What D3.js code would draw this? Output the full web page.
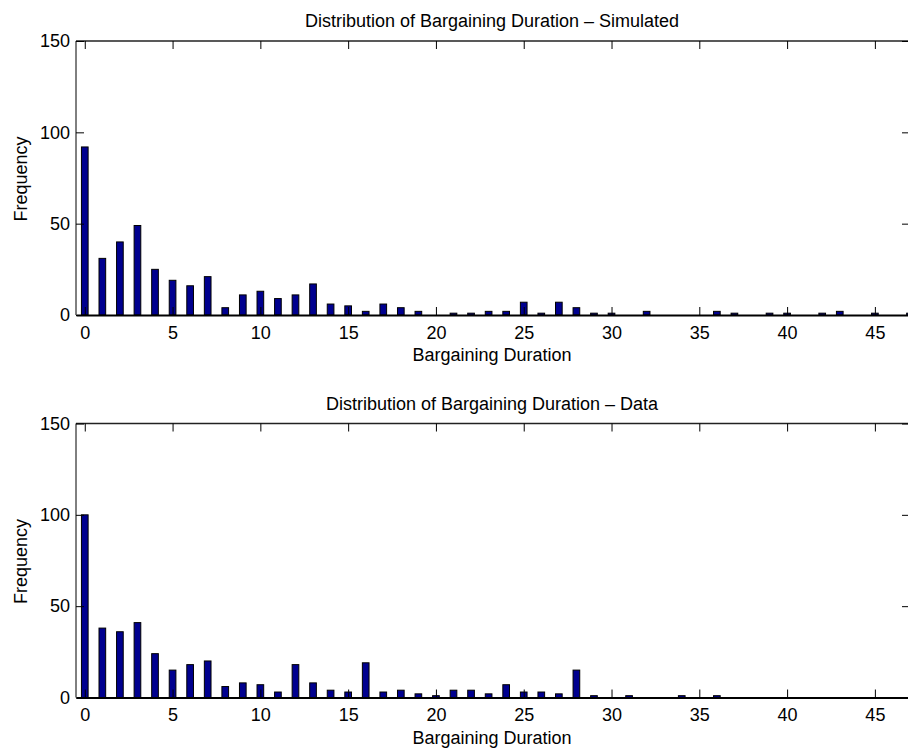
<!DOCTYPE html>
<html>
<head>
<meta charset="utf-8">
<script src="https://cdn.jsdelivr.net/npm/d3@7"></script>
<style>
  body { margin: 0; background: #fff; }
  svg { display: block; font-family: "Liberation Sans", Arial, Helvetica, sans-serif; }
</style>
</head>
<body>
<svg id="chart" width="908" height="756"></svg>
<script>
// ---- data ----
const durations = d3.range(0, 48);
const simulated = [92,31,40,49,25,19,16,21,4,11,13,9,11,17,6,5,2,6,4,2,0,1,1,2,2,7,1,7,4,1,1,0,2,0,0,0,2,1,0,1,1,0,1,2,0,1,0,1];
const observed  = [100,38,36,41,24,15,18,20,6,8,7,3,18,8,4,3,19,3,4,2,1,4,4,2,7,3,3,2,15,1,0,1,0,0,1,0,1,0,0,0,0,0,0,0,0,0,0,0];
const xTicks = [0,5,10,15,20,25,30,35,40,45];
const yTicks = [0,50,100,150];
const titles = ["Distribution of Bargaining Duration \u2013 Simulated", "Distribution of Bargaining Duration \u2013 Data"];
const xLabel = "Bargaining Duration";
const yLabel = "Frequency";

const svg = d3.select("#chart");
const left = 76, right = 910;
const fs = 18;
const panels = [
  { top: 41, bottom: 315, values: simulated, title: titles[0] },
  { top: 423.5, bottom: 697.5, values: observed, title: titles[1] }
];

const x = d3.scaleLinear().domain([-0.5, 47]).range([left, right]);
const halfW = 0.19;

panels.forEach(p => {
  const y = d3.scaleLinear().domain([0, 150]).range([p.bottom, p.top]);
  const g = svg.append("g");

  // bars
  g.selectAll("rect.bar").data(durations.map((d, i) => ({ d, v: p.values[i] })))
    .enter().append("rect").attr("class", "bar")
    .attr("x", d => x(d.d - halfW))
    .attr("width", d => x(d.d + halfW) - x(d.d - halfW))
    .attr("y", d => y(d.v))
    .attr("height", d => y(0) - y(d.v))
    .attr("fill", "#00008f")
    .attr("stroke", "#000")
    .attr("stroke-width", 1);

  // box
  const tickLen = 8;
  g.append("line").attr("x1", left).attr("x2", right).attr("y1", p.top).attr("y2", p.top)
    .attr("stroke", "#222").attr("stroke-width", 1.3);
  g.append("line").attr("x1", left).attr("x2", left).attr("y1", p.top).attr("y2", p.bottom)
    .attr("stroke", "#000").attr("stroke-width", 1);
  g.append("line").attr("x1", right).attr("x2", right).attr("y1", p.top).attr("y2", p.bottom)
    .attr("stroke", "#000").attr("stroke-width", 1);

  // x axis (bottom), ticks pointing inward
  const xAxis = d3.axisBottom(x).tickValues(xTicks).tickSizeInner(-tickLen).tickSizeOuter(0).tickPadding(11);
  const gx = g.append("g").attr("transform", `translate(0,${p.bottom})`).call(xAxis);
  gx.select(".domain").attr("stroke-width", 2);
  gx.selectAll("text").attr("font-size", fs).attr("fill", "#000").attr("font-family", "Liberation Sans, Arial, sans-serif");
  // top ticks
  const xTop = d3.axisTop(x).tickValues(xTicks).tickSizeInner(-tickLen).tickSizeOuter(0).tickFormat("");
  const gxt = g.append("g").attr("transform", `translate(0,${p.top})`).call(xTop);
  gxt.select(".domain").remove();

  // y axis left
  const yAxis = d3.axisLeft(y).tickValues(yTicks).tickSizeInner(-tickLen).tickSizeOuter(0).tickPadding(6);
  const gy = g.append("g").attr("transform", `translate(${left},0)`).call(yAxis);
  gy.select(".domain").remove();
  gy.selectAll("text").attr("font-size", fs).attr("fill", "#000").attr("font-family", "Liberation Sans, Arial, sans-serif");
  // right ticks
  const yRight = d3.axisRight(y).tickValues(yTicks).tickSizeInner(-tickLen).tickSizeOuter(0).tickFormat("");
  const gyr = g.append("g").attr("transform", `translate(${right},0)`).call(yRight);
  gyr.select(".domain").remove();

  // title
  g.append("text").attr("x", (left + 910) / 2 - 1).attr("y", p.top - 14)
    .attr("text-anchor", "middle").attr("font-size", fs).attr("fill", "#000").text(p.title);
  // x label
  g.append("text").attr("x", (left + 910) / 2 - 1).attr("y", p.bottom + 46)
    .attr("text-anchor", "middle").attr("font-size", fs).attr("fill", "#000").text(xLabel);
  // y label
  g.append("text").attr("transform", `translate(27,${(p.top + p.bottom) / 2 + 1}) rotate(-90)`)
    .attr("text-anchor", "middle").attr("font-size", fs).attr("fill", "#000").text(yLabel);
});
</script>
</body>
</html>
